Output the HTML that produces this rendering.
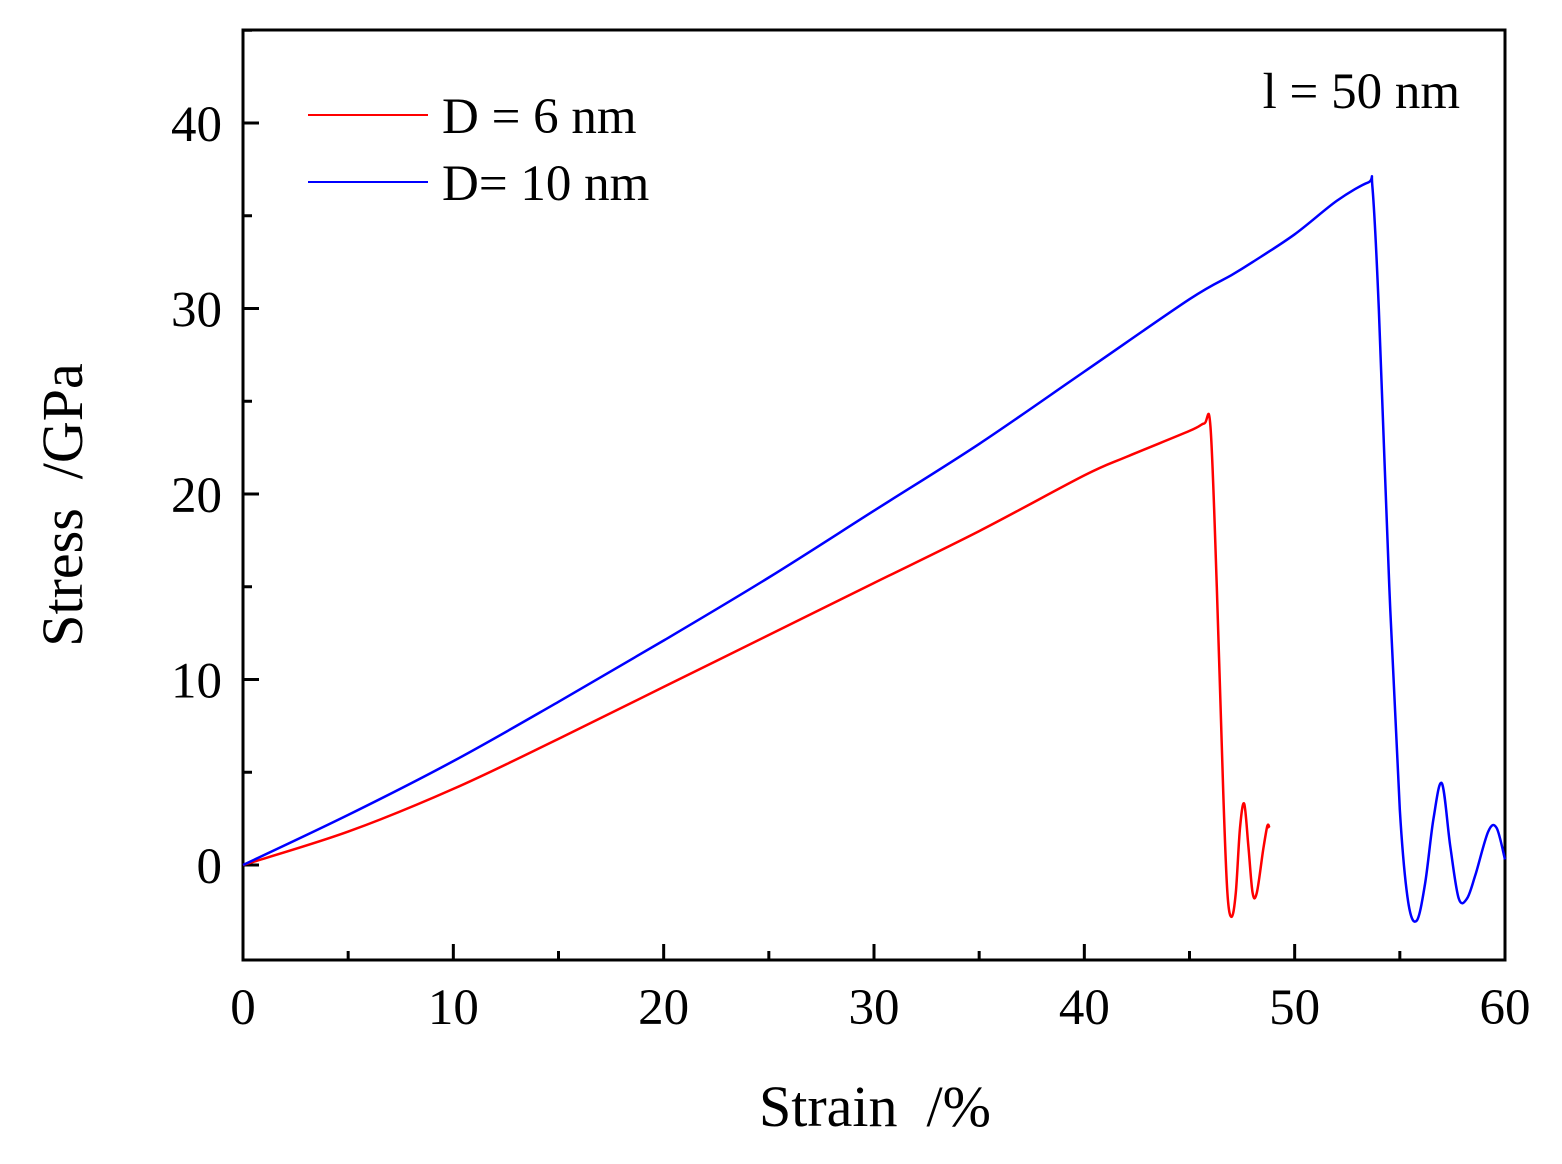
<!DOCTYPE html>
<html><head><meta charset="utf-8"><style>
body{margin:0;background:#fff;}
svg text{font-family:"Liberation Serif",serif;fill:#000;}
</style></head><body>
<svg id="chart" width="1562" height="1159" xmlns="http://www.w3.org/2000/svg">
<rect x="243" y="30" width="1262" height="930" fill="none" stroke="#000" stroke-width="3"/>
<g id="ticks"></g>
<g id="series"></g>
<text x="875" y="1126" font-size="58" text-anchor="middle">Strain&#160;&#160;/%</text>
<text transform="translate(82,505) rotate(-90)" font-size="58" text-anchor="middle">Stress&#160;&#160;/GPa</text>
<text x="1460" y="108" font-size="51" text-anchor="end">l = 50 nm</text>
<g>
<line x1="308" y1="115" x2="428" y2="115" stroke="#ff0000" stroke-width="2"/>
<text x="442" y="133" font-size="51">D = 6 nm</text>
<line x1="308" y1="182" x2="428" y2="182" stroke="#0000ff" stroke-width="2"/>
<text x="442" y="200" font-size="51">D= 10 nm</text>
</g>
</svg>
<script>
const xTicks=[0,10,20,30,40,50,60];
const yTicks=[0,10,20,30,40];
const redStrain=[0,5,10,15,20,25,30,35,40,42,45,45.7,46,46.3,46.6,46.8,47,47.2,47.4,47.6,47.8,48,48.2,48.5,48.7,48.8];
const redStress=[0,1.8,4.1,6.8,9.6,12.4,15.2,18,21,22,23.4,23.8,23.6,15,4,-1.5,-2.8,-1.5,2,3.3,1,-1.5,-1.5,0.8,2.1,2];
const blueStrain=[0,5,10,15,20,25,30,35,40,45,47,48,50,52,53.5,53.7,54,54.5,55,55.4,55.8,56.2,56.6,57,57.4,57.8,58.2,58.6,59.2,59.6,60];
const blueStress=[0,2.7,5.6,8.8,12.1,15.5,19.1,22.7,26.6,30.5,31.8,32.5,34,35.8,36.8,36.5,30,15,3,-2,-3,-1,2.5,4.4,1,-1.8,-1.8,-0.5,1.8,2,0.3];
const X=v=>243+(v-0)*(1505-243)/60;
const Y=v=>865-v*(865-123)/40;
const NS="http://www.w3.org/2000/svg";
const tg=document.getElementById('ticks');
function mk(t,a,p){const e=document.createElementNS(NS,t);for(const k in a)e.setAttribute(k,a[k]);p.appendChild(e);return e;}
for(let v=0;v<=60;v+=5){const major=v%10===0;
 const l=mk('line',{x1:X(v),x2:X(v),y1:960,y2:960-(major?16:9),stroke:'#000','stroke-width':3},tg);
 
 }
xTicks.forEach(v=>{const t=mk('text',{x:X(v),y:1024,'font-size':51,'text-anchor':'middle'},tg);t.textContent=v;
 
 });
for(let v=0;v<=45;v+=5){const major=v%10===0;
 const l=mk('line',{x1:243,x2:243+(major?16:9),y1:Y(v),y2:Y(v),stroke:'#000','stroke-width':3},tg);
 
 }
yTicks.forEach(v=>{const t=mk('text',{x:222,y:Y(v)+18,'font-size':51,'text-anchor':'end'},tg);t.textContent=v;
 
 });
const sg=document.getElementById('series');
function line(xs,ys,c,name){
 const P=xs.map((x,i)=>[X(x),Y(ys[i])]);
 let d='M'+P[0][0].toFixed(1)+' '+P[0][1].toFixed(1);
 for(let i=0;i<P.length-1;i++){
  const p0=P[Math.max(0,i-1)],p1=P[i],p2=P[i+1],p3=P[Math.min(P.length-1,i+2)];
  const t=1/6;
  const c1=[p1[0]+(p2[0]-p0[0])*t,p1[1]+(p2[1]-p0[1])*t];
  const c2=[p2[0]-(p3[0]-p1[0])*t,p2[1]-(p3[1]-p1[1])*t];
  d+=' C'+c1.map(v=>v.toFixed(1)).join(' ')+' '+c2.map(v=>v.toFixed(1)).join(' ')+' '+p2[0].toFixed(1)+' '+p2[1].toFixed(1);
 }
 const p=mk('path',{d:d,fill:'none',stroke:c,'stroke-width':2.5,'stroke-linejoin':'round'},sg);
 
 }
line(redStrain,redStress,'#ff0000','series-d6');
line(blueStrain,blueStress,'#0000ff','series-d10');
</script>
</body></html>
